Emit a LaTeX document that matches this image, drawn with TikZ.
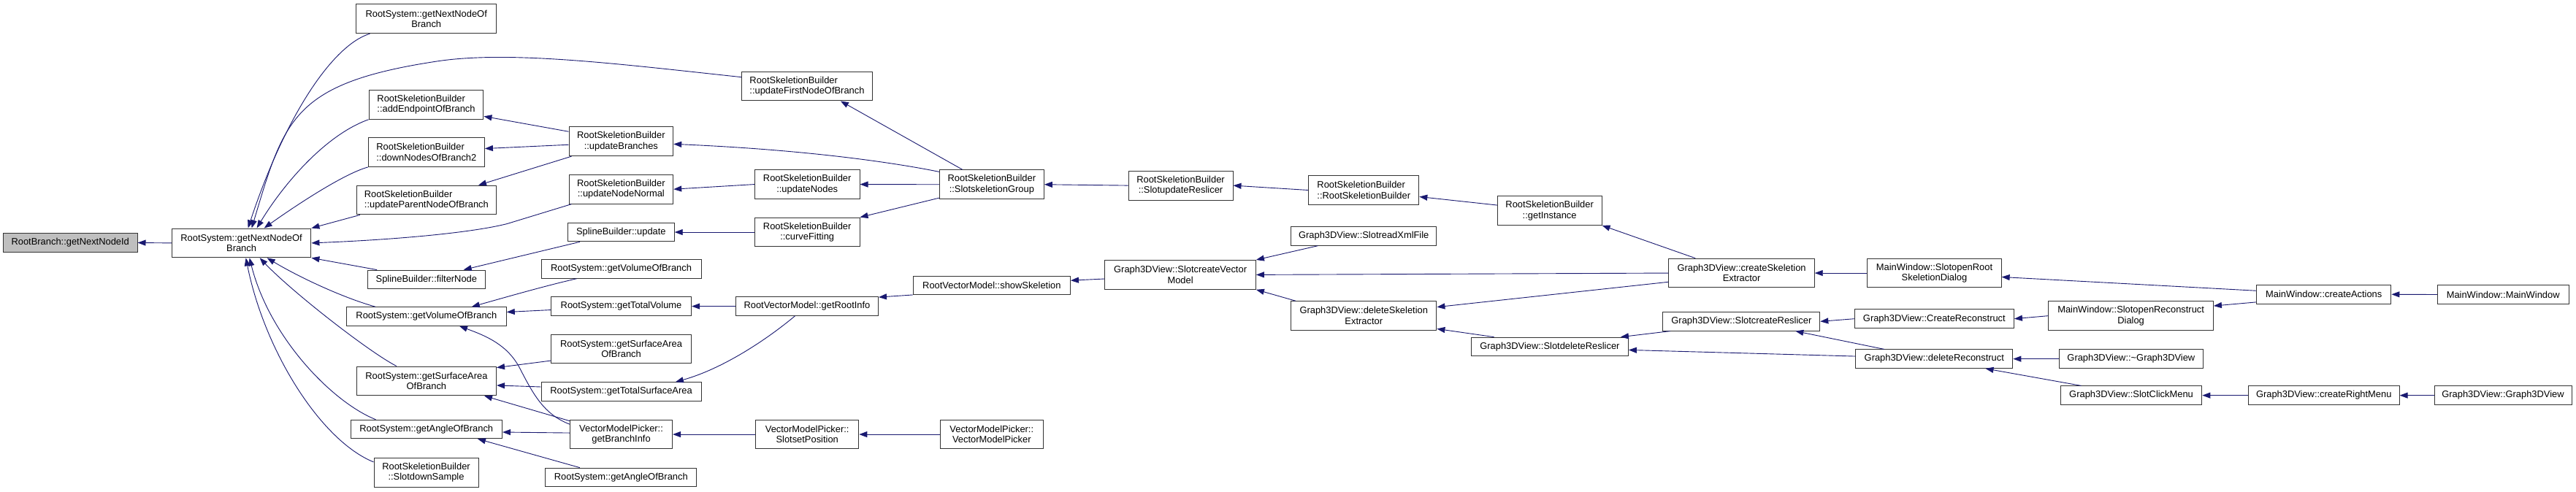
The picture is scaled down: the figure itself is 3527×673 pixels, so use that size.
\documentclass[tikz,border=0pt]{standalone}
\usepackage{fontspec}
\setmainfont{Liberation Sans}
\usetikzlibrary{arrows.meta,calc}
\definecolor{edgeblue}{HTML}{191970}
\definecolor{boxgray}{HTML}{BFBFBF}
\definecolor{boxline}{HTML}{333333}
\newcommand\dxfont{\fontsize{12.9}{14.6}\selectfont}
\tikzset{
 box/.style={draw=boxline, line width=1pt, fill=white, inner sep=0pt, align=center, font=\dxfont, text=black},
 one/.style={minimum height=25.5pt},
 two/.style={minimum height=39.8pt},
 call/.style={draw=edgeblue, line width=0.9pt, -{Triangle[length=11pt,width=8pt]}}
}
\begin{document}
\begin{tikzpicture}[x=1pt,y=-1pt]
\fill[white] (0,0) rectangle (3527,673);
\useasboundingbox (0,0) rectangle (3527,673);
% column 0/1
\node[box,one,fill=boxgray,minimum width=183.5pt] (rb) at (96.25,332.5) {RootBranch::getNextNodeId};
\node[box,two,minimum width=190.6pt] (gn) at (330.6,332.9) {RootSystem::getNextNodeOf\\Branch};
% column 2
\node[box,two,minimum width=191.6pt] (n1) at (583.7,25.75) {RootSystem::getNextNodeOf\\Branch};
\node[box,two,align=left,minimum width=156.8pt] (n2) at (583.5,143.35) {RootSkeletionBuilder\\::addEndpointOfBranch};
\node[box,two,align=left,minimum width=159.1pt] (n3) at (583.85,208.55) {RootSkeletionBuilder\\::downNodesOfBranch2};
\node[box,two,align=left,minimum width=191.2pt] (n4) at (583.9,274.05) {RootSkeletionBuilder\\::updateParentNodeOfBranch};
\node[box,one,minimum width=160.6pt] (n5) at (583.9,382.85) {SplineBuilder::filterNode};
\node[box,one,minimum width=218.8pt] (n6) at (583.9,433.5) {RootSystem::getVolumeOfBranch};
\node[box,two,minimum width=191.2pt] (n7) at (583.9,521.9) {RootSystem::getSurfaceArea\\OfBranch};
\node[box,one,minimum width=207.5pt] (n8) at (583.75,588) {RootSystem::getAngleOfBranch};
\node[box,two,minimum width=143pt] (n9) at (583.5,647.3) {RootSkeletionBuilder\\::SlotdownSample};
% column 3
\node[box,two,minimum width=142.7pt] (n11) at (850.35,193.75) {RootSkeletionBuilder\\::updateBranches};
\node[box,two,minimum width=142.7pt] (n12) at (850.35,259.2) {RootSkeletionBuilder\\::updateNodeNormal};
\node[box,one,minimum width=145.7pt] (n13) at (850.35,318.05) {SplineBuilder::update};
\node[box,one,minimum width=218.9pt] (n14) at (850.55,368.45) {RootSystem::getVolumeOfBranch};
\node[box,one,minimum width=192.1pt] (n15) at (850.55,419.55) {RootSystem::getTotalVolume};
\node[box,two,minimum width=191.3pt] (n16) at (850.55,477.95) {RootSystem::getSurfaceArea\\OfBranch};
\node[box,one,minimum width=218.9pt] (n17) at (850.55,536.5) {RootSystem::getTotalSurfaceArea};
\node[box,two,minimum width=140.1pt] (n18) at (850.55,595.05) {VectorModelPicker::\\getBranchInfo};
\node[box,one,minimum width=207pt] (n19) at (850.3,653.85) {RootSystem::getAngleOfBranch};
% column 4
\node[box,two,align=left,minimum width=178.9pt] (n10) at (1104.95,118.05) {RootSkeletionBuilder\\::updateFirstNodeOfBranch};
\node[box,two,minimum width=143.6pt] (n20) at (1105.2,252.55) {RootSkeletionBuilder\\::updateNodes};
\node[box,two,minimum width=143.6pt] (n21) at (1105.2,318.05) {RootSkeletionBuilder\\::curveFitting};
\node[box,one,minimum width=195.1pt] (n22) at (1104.95,419.55) {RootVectorModel::getRootInfo};
\node[box,two,minimum width=141.2pt] (n23) at (1105.2,595.05) {VectorModelPicker::\\SlotsetPosition};
% column 5
\node[box,two,minimum width=143.1pt] (n24) at (1357.85,252.75) {RootSkeletionBuilder\\::SlotskeletionGroup};
\node[box,one,minimum width=215.1pt] (n27) at (1357.85,391.2) {RootVectorModel::showSkeletion};
\node[box,two,minimum width=140.8pt] (n28) at (1357.8,595.05) {VectorModelPicker::\\VectorModelPicker};
% column 6
\node[box,two,minimum width=143pt] (n25) at (1616.5,254.1) {RootSkeletionBuilder\\::SlotupdateReslicer};
\node[box,two,minimum width=206.6pt] (n26) at (1616.1,376.4) {Graph3DView::SlotcreateVector\\Model};
% column 7
\node[box,two,align=left,minimum width=151.1pt] (n29) at (1867.25,260.5) {RootSkeletionBuilder\\::RootSkeletionBuilder};
\node[box,one,minimum width=199.3pt] (n31) at (1867.25,323.4) {Graph3DView::SlotreadXmlFile};
\node[box,two,minimum width=199.3pt] (n32) at (1867.25,432.65) {Graph3DView::deleteSkeletion\\Extractor};
% column 8
\node[box,two,minimum width=142.7pt] (n30) at (2121.65,288.45) {RootSkeletionBuilder\\::getInstance};
\node[box,one,minimum width=215pt] (n33) at (2121.9,474.9) {Graph3DView::SlotdeleteReslicer};
% column 9
\node[box,two,minimum width=199.3pt] (n34) at (2384.55,374.05) {Graph3DView::createSkeletion\\Extractor};
\node[box,one,minimum width=214.9pt] (n35) at (2384.35,440.35) {Graph3DView::SlotcreateReslicer};
% column 10
\node[box,two,minimum width=183.2pt] (n36) at (2648.5,374.05) {MainWindow::SlotopenRoot\\SkeletionDialog};
\node[box,one,minimum width=218.1pt] (n37) at (2648.35,436.7) {Graph3DView::CreateReconstruct};
\node[box,one,minimum width=215pt] (n38) at (2648.3,491.65) {Graph3DView::deleteReconstruct};
% column 11
\node[box,two,minimum width=225.6pt] (n39) at (2917.6,432.65) {MainWindow::SlotopenReconstruct\\Dialog};
\node[box,one,minimum width=196.3pt] (n40) at (2917.85,491.65) {Graph3DView::\textasciitilde Graph3DView};
\node[box,one,minimum width=193.5pt] (n41) at (2918.05,541.65) {Graph3DView::SlotClickMenu};
% column 12
\node[box,one,minimum width=184.4pt] (n42) at (3181.7,403.25) {MainWindow::createActions};
\node[box,one,minimum width=206.8pt] (n44) at (3181.7,541.65) {Graph3DView::createRightMenu};
% column 13
\node[box,one,minimum width=179.7pt] (n43) at (3427.15,403.5) {MainWindow::MainWindow};
\node[box,one,minimum width=188pt] (n45) at (3427,541.65) {Graph3DView::Graph3DView};

% edges
\draw[call] (gn.west) -- (rb.east);
\draw[call] ($(n1.south west)+(19,0)$) .. controls (455,62) and (390,160) .. ($(gn.north)+(9,0)$);
\draw[call] ($(n10.west)+(0,-12.4)$) .. controls (850,88) and (700,69) .. (600,83.7) .. controls (400,113.7) and (389.4,163.4) .. ($(gn.north)+(14,0)$);
\draw[call] (n2.south west) .. controls (445,185) and (387.3,253.4) .. ($(gn.north)+(21,0)$);
\draw[call] (n3.south west) .. controls (470,238) and (400,285) .. ($(gn.north)+(31,0)$);
\draw[call] ($(n4.south west)+(5,0)$) -- (gn.north east);
\draw[call] ($(n12.south west)+(4,0)$) -- (694.8,306.4) .. controls (650,318) and (550,328) .. (gn.east);
\draw[call] ($(n5.north west)+(13,0)$) -- (gn.south east);
\draw[call] ($(n6.north west)+(40,0)$) .. controls (470,408) and (410,380) .. ($(gn.south)+(35,0)$);
\draw[call] ($(n7.north west)+(55,0)$) .. controls (505,482) and (400,400) .. ($(gn.south)+(25,0)$);
\draw[call] ($(n8.north west)+(35,0)$) .. controls (455,551) and (369,462.4) .. ($(gn.south)+(11,0)$);
\draw[call] ($(n9.north west)+(0,6)$) .. controls (440,604) and (362.6,482.4) .. ($(gn.south)+(6,0)$);

\draw[call] ($(n11.west)+(0,-13.5)$) -- ($(n2.east)+(0,16)$);
\draw[call] ($(n11.west)+(0,4.5)$) -- ($(n3.east)+(0,-5)$);
\draw[call] ($(n11.south west)+(4,0)$) -- ($(n4.north east)+(-25,0)$);
\draw[call] ($(n24.north west)+(0,3)$) .. controls (1220,222) and (1100,205) .. ($(n11.east)+(0,3.6)$);
\draw[call] ($(n24.north west)+(32,0)$) -- ($(n10.south east)+(-44,0)$);
\draw[call] (n20.west) -- (n12.east);
\draw[call] (n24.west) -- (n20.east);
\draw[call] ($(n24.south west)+(0,-2)$) -- (n21.north east);
\draw[call] (n21.west) -- (n13.east);
\draw[call] ($(n13.south west)+(17,0)$) -- ($(n5.north east)+(-30,0)$);
\draw[call] ($(n14.south west)+(49,0)$) .. controls (745,392) and (700,405) .. ($(n6.north east)+(-48,0)$);
\draw[call] ($(n15.west)+(0,5)$) -- ($(n6.east)+(0,-6)$);
\draw[call] ($(n18.north west)+(0,6.5)$) .. controls (745,568) and (730,540) .. (712,505) .. controls (695,472) and (665,460) .. ($(n6.south west)+(155,0)$);
\draw[call] ($(n16.south west)+(0,-4.3)$) -- ($(n7.north east)+(0,2.1)$);
\draw[call] ($(n17.west)+(0,-6.5)$) -- ($(n7.east)+(0,6)$);
\draw[call] ($(n18.north west)+(0,2)$) -- ($(n7.south east)+(-17,0)$);
\draw[call] ($(n18.west)+(0,-2)$) -- ($(n8.east)+(0,4)$);
\draw[call] ($(n19.north west)+(47.5,0)$) -- ($(n8.south east)+(-34,0)$);
\draw[call] (n22.west) -- (n15.east);
\draw[call] ($(n22.south west)+(81.6,0)$) .. controls (1050,465) and (990,505) .. ($(n17.north east)+(-35.6,0)$);
\draw[call] (n23.west) -- (n18.east);
\draw[call] (n28.west) -- (n23.east);
\draw[call] ($(n27.south west)+(0,-0.5)$) -- ($(n22.north east)+(0,0.8)$);
\draw[call] (n25.west) -- (n24.east);
\draw[call] ($(n26.west)+(0,5.6)$) -- ($(n27.east)+(0,-7)$);
\draw[call] (n29.west) -- (n25.east);
\draw[call] ($(n31.south west)+(37.4,0)$) -- (n26.north east);
\draw[call] (n34.west) -- (n26.east);
\draw[call] ($(n32.north west)+(7,0)$) -- (n26.south east);
\draw[call] ($(n30.west)+(0,-7.4)$) -- ($(n29.east)+(0,9)$);
\draw[call] ($(n34.north west)+(36.7,0)$) -- (n30.south east);
\draw[call] ($(n34.west)+(0,12.2)$) -- ($(n32.east)+(0,-12)$);
\draw[call] ($(n33.north west)+(31.6,0)$) -- ($(n32.south east)+(0,-2.6)$);
\draw[call] ($(n35.south west)+(10.3,0)$) -- ($(n33.north east)+(-11,0)$);
\draw[call] ($(n38.west)+(0,-3.6)$) -- ($(n33.east)+(0,4.5)$);
\draw[call] (n36.west) -- (n34.east);
\draw[call] (n37.west) -- (n35.east);
\draw[call] ($(n38.north west)+(39.4,0)$) -- ($(n35.south east)+(-34,0)$);
\draw[call] (n39.west) -- (n37.east);
\draw[call] (n40.west) -- (n38.east);
\draw[call] ($(n41.north west)+(28.7,0)$) -- ($(n38.south east)+(-37.8,0)$);
\draw[call] ($(n42.west)+(0,-5)$) -- ($(n36.east)+(0,5.4)$);
\draw[call] ($(n42.south west)+(0,-2.6)$) -- ($(n39.north east)+(0,6.8)$);
\draw[call] (n43.west) -- (n42.east);
\draw[call] (n44.west) -- (n41.east);
\draw[call] (n45.west) -- (n44.east);
\end{tikzpicture}
\end{document}
